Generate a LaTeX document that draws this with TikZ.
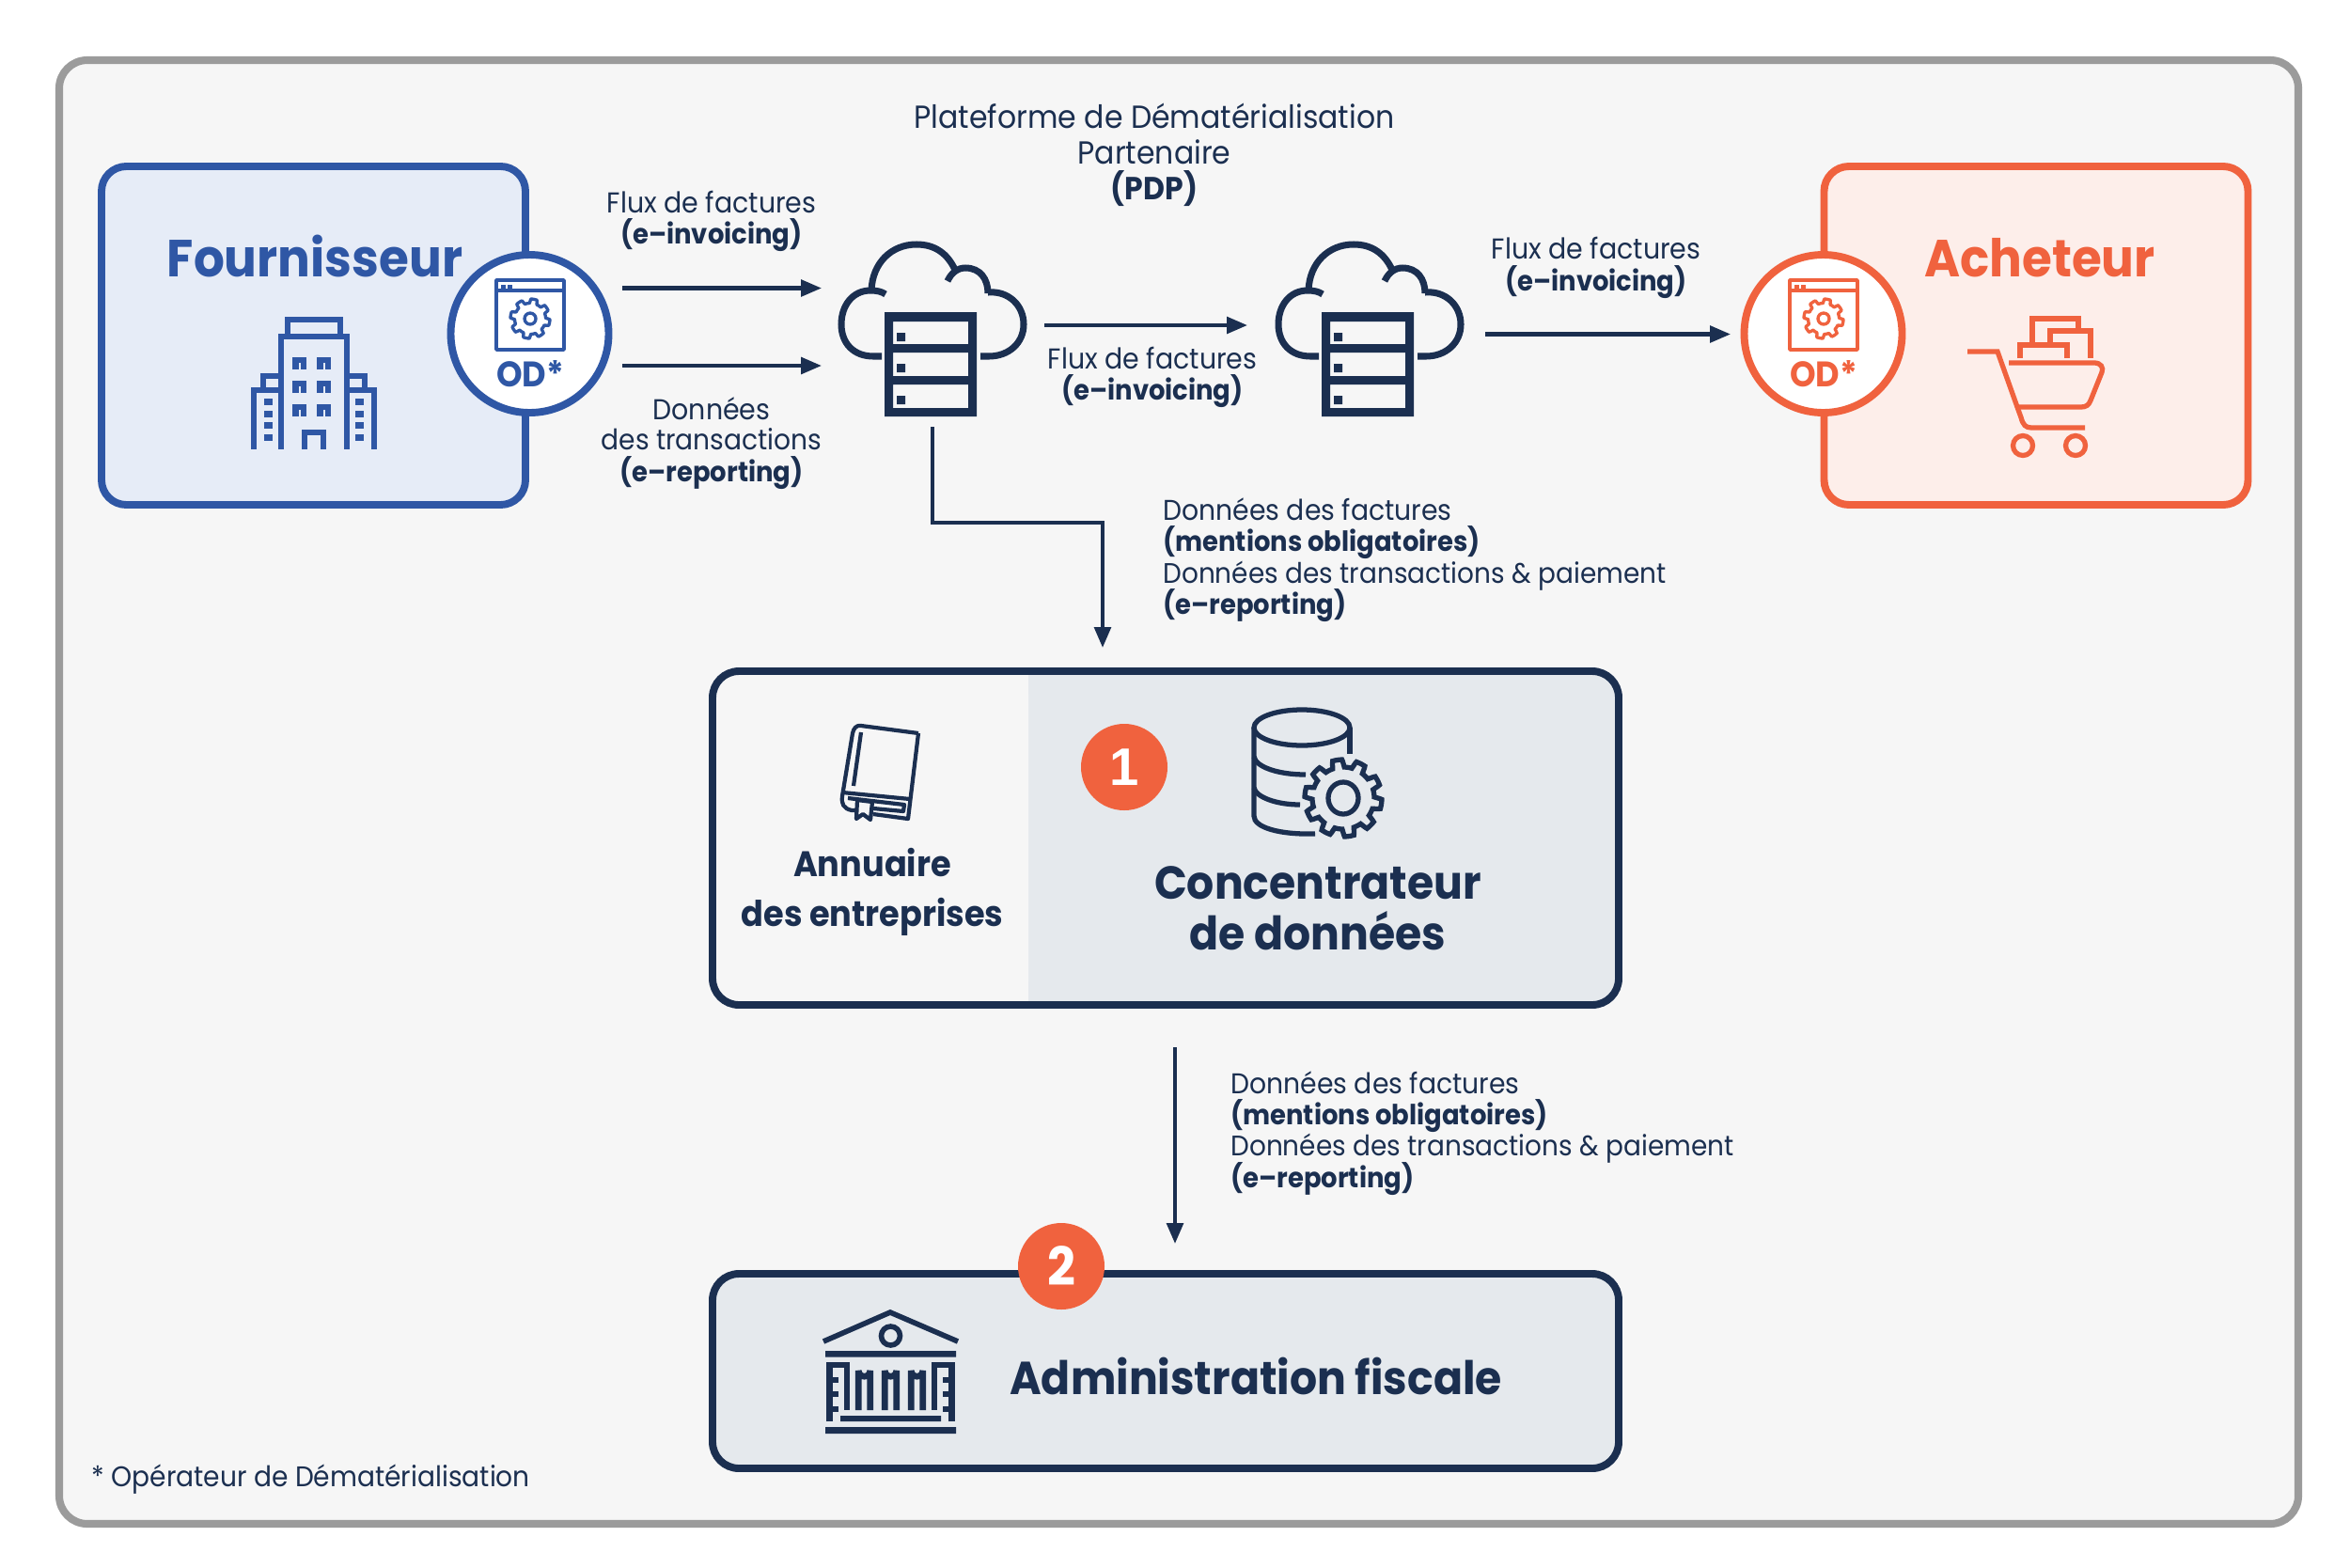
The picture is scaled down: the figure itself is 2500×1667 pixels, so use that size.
\documentclass[tikz,border=0pt]{standalone}
\usepackage{fontspec}
\setmainfont{Poppins}[FakeStretch=0.93]
\newfontfamily\numfont{Liberation Sans}
\usetikzlibrary{arrows.meta}
\definecolor{navy}{HTML}{1B2F50}
\definecolor{bluec}{HTML}{2F57A5}
\definecolor{bluef}{HTML}{E6ECF7}
\definecolor{orangec}{HTML}{F0623E}
\definecolor{orangef}{HTML}{FDEEEA}
\definecolor{panel}{HTML}{E5E9ED}
\definecolor{bgc}{HTML}{F6F6F6}
\definecolor{framec}{HTML}{9B9B9B}
\newcommand\sz[1]{\fontsize{#1}{#1}\selectfont}
\newcommand\gearpath[5]{% cx cy Rout Rin teeth
  plot[domain=0:360,samples=361,variable=\t]
  ({#1+(#4+(#3-#4)*max(0,min(1,0.5+1.6*sin(#5*\t))))*cos(\t)},
   {#2+(#4+(#3-#4)*max(0,min(1,0.5+1.6*sin(#5*\t))))*sin(\t)}) -- cycle}
\newcommand\odicon[3]{% cx colour name
  \begin{scope}[shift={(#1,0)},draw=#2,line width=2pt,line join=round]
    \draw (-36,298) rectangle (36,372);
    \draw (-36,309) -- (36,309);
    \fill[#2] (-31,303) rectangle (-26,307);
    \fill[#2] (-24,303) rectangle (-19,307);
    \draw[line width=1.9pt] \gearpath{0}{339}{21}{16.5}{8};
    \draw[line width=1.9pt] (0,339) circle (6);
    \node[text=#2,font=\bfseries\sz{21.5},inner sep=0pt,anchor=base] (#3) at (0,411) {OD*};
  \end{scope}}
\newcommand\cloudserver[1]{% x shift
  \begin{scope}[shift={(#1,0)},draw=navy,line width=4pt]
    \draw (938,379) -- (929,379) .. controls (908,379) and (895,365) .. (895,345)
      .. controls (895,325) and (907,309) .. (926,309) .. controls (932,309) and (938,310) .. (942,313);
    \draw (927,309) .. controls (928,280) and (948,260) .. (975,260)
      .. controls (995,260) and (1008,270) .. (1016,287);
    \draw (1008,299) .. controls (1012,290) and (1019,285) .. (1027,285)
      .. controls (1043,285) and (1051,297) .. (1051,312);
    \draw (1051,311) .. controls (1073,309) and (1089,325) .. (1089,345)
      .. controls (1089,365) and (1073,379) .. (1052,379) -- (1043,379);
    \fill[navy,even odd rule] (941,332) rectangle (1039,443)
      (950,342) rectangle (1030,366) (950,375) rectangle (1030,400) (950,409) rectangle (1030,434);
    \fill[navy] (954,354) rectangle (963,363) (954,387) rectangle (963,396) (954,421) rectangle (963,430);
  \end{scope}}
\tikzset{x=0.02cm,y=-0.02cm,
  frame/.style={draw=framec,fill=bgc,line width=4.6pt,rounded corners=17pt},
  partybox/.style={rectangle,line width=4.5pt,rounded corners=15pt,inner sep=0pt},
  navybox/.style={rectangle,draw=navy,line width=4.5pt,rounded corners=16pt,inner sep=0pt,minimum width=964*0.02cm},
  oddisc/.style={circle,fill=white,line width=4.5pt,minimum size=168*0.02cm,inner sep=0pt},
  numdisc/.style={circle,fill=orangec,minimum size=92*0.02cm,inner sep=0pt,text=white},
  lbl/.style={text=navy,font=\sz{17.4},inner sep=0pt,anchor=base},
  lblb/.style={text=navy,font=\bfseries\sz{16.8},inner sep=0pt,anchor=base},
  lbll/.style={lbl,anchor=base west},
  lblbl/.style={lblb,anchor=base west},
  lbllong/.style={lbll,font=\sz{17.1}},
  pdpl/.style={lbl,font=\sz{19.3}},
  arr/.style={draw=navy,line width=2.3pt,-{Triangle[length=12.5pt,width=10pt]}},
  ico/.style={draw=navy,line width=3pt},
}
\begin{document}
\begin{tikzpicture}
\useasboundingbox (0,0) rectangle (2500,1667);
\fill[white] (0,0) rectangle (2500,1667);
\draw[frame] (63,64) rectangle (2445,1621);

% Fournisseur
\node[partybox,draw=bluec,fill=bluef,minimum width=451*0.02cm,minimum height=360*0.02cm] (four) at (333.5,357) {};
\node[text=bluec,font=\bfseries\sz{31.6},inner sep=0pt,anchor=base] (fourt) at (335,294) {Fournisseur};
\begin{scope}[draw=bluec,line width=3.2pt]
  \draw (306,356) -- (306,340) -- (362,340) -- (362,356);
  \draw (299,478) -- (299,358) -- (369,358) -- (369,478);
  \draw (299,400) -- (280,400) -- (280,414) (369,400) -- (388,400) -- (388,414);
  \draw (299,415) -- (270,415) -- (270,478) (369,415) -- (398,415) -- (398,478);
  \foreach \yy in {380,405,430}{
    \draw[line width=3.8pt] (314.5,\yy+13) -- (314.5,\yy+3) -- (323,\yy+3) -- (323,\yy+13) ;
    \draw[line width=3.8pt] (340.5,\yy+13) -- (340.5,\yy+3) -- (349,\yy+3) -- (349,\yy+13) ;
  }
  \draw (324,478) -- (324,460) -- (344,460) -- (344,478);
  \foreach \yy in {424,437,449,462}{
    \fill[bluec] (281,\yy) rectangle (290,\yy+6.5);
    \fill[bluec] (378,\yy) rectangle (387,\yy+6.5);
  }
\end{scope}
\node[oddisc,draw=bluec] (odl) at (563.5,355) {};
\odicon{564}{bluec}{odlt}

% Acheteur
\node[partybox,draw=orangec,fill=orangef,minimum width=451*0.02cm,minimum height=360*0.02cm] (ach) at (2166,357) {};
\node[text=orangec,font=\bfseries\sz{31.6},inner sep=0pt,anchor=base] (acht) at (2170,294) {Acheteur};
\begin{scope}[draw=orangec,line width=3pt]
  \draw (2093,374) -- (2125,374) -- (2146,433) -- (2150,444) .. controls (2152,452) and (2155,455) .. (2161,455) -- (2218,455);
  \draw (2137,386) -- (2228,386) .. controls (2235,386) and (2238,391) .. (2236,396) -- (2224,426) .. controls (2222,431) and (2219,433) .. (2214,433) -- (2146,433);
  \draw (2152,474) circle (10.5);
  \draw (2208,474) circle (10.5);
  \draw (2149,381) -- (2149,367) -- (2199,367) -- (2199,381);
  \draw (2162,365) -- (2162,339) -- (2211,339) -- (2211,350);
  \draw (2181,365) -- (2181,352) -- (2224,352) -- (2224,381);
\end{scope}
\node[oddisc,draw=orangec] (odr) at (1939.5,355) {};
\odicon{1940}{orangec}{odrt}

% clouds
\cloudserver{0}
\cloudserver{465}
\coordinate (c1up) at (874,306.5);
\coordinate (c1lo) at (874,389);
\coordinate (fup) at (662,306.5);
\coordinate (flo) at (662,389);
\coordinate (c1out) at (1111,346);
\coordinate (c2in) at (1327,346);
\coordinate (c2out) at (1580,355.5);
\coordinate (odin) at (1841,355.5);
\coordinate (c1dn) at (992,454);
\coordinate (concin) at (1173,689);
\coordinate (concout) at (1250,1114);
\coordinate (admin) at (1250,1323);
\draw[arr] (fup) -- (c1up);
\draw[arr] (flo) -- (c1lo);
\draw[arr] (c1out) -- (c2in);
\draw[arr] (c2out) -- (odin);
\draw[arr] (c1dn) |- (1173,556) -- (concin);
\draw[arr] (concout) -- (admin);

% labels top
\node[pdpl] (pdp1) at (1228,136) {Plateforme de Dématérialisation};
\node[pdpl] (pdp2) at (1228,174) {Partenaire};
\node[pdpl,font=\bfseries\sz{19.3}] (pdp3) at (1228,212) {(PDP)};
\node[lbl] (la1) at (757,226) {Flux de factures};
\node[lblb] (la2) at (757,259) {(e–invoicing)};
\node[lbl] (lb1) at (757,446) {Données};
\node[lbl,font=\sz{17.2}] (lb2) at (757,478) {des transactions};
\node[lblb] (lb3) at (757,512) {(e–reporting)};
\node[lbl] (lc1) at (1226,392) {Flux de factures};
\node[lblb] (lc2) at (1226,425) {(e–invoicing)};
\node[lbl] (ld1) at (1698,275) {Flux de factures};
\node[lblb] (ld2) at (1698,309) {(e–invoicing)};
\node[lbll,font=\sz{17.3}] (le1) at (1237,553) {Données des factures};
\node[lblbl] (le2) at (1237,586) {(mentions obligatoires)};
\node[lbllong] (le3) at (1237,620) {Données des transactions \& paiement};
\node[lblbl] (le4) at (1237,653) {(e–reporting)};
\node[lbll,font=\sz{17.3}] (lf1) at (1309,1163) {Données des factures};
\node[lblbl] (lf2) at (1309,1196) {(mentions obligatoires)};
\node[lbllong] (lf3) at (1309,1229) {Données des transactions \& paiement};
\node[lblbl] (lf4) at (1309,1263) {(e–reporting)};

% Concentrateur
\node[navybox,draw=none,fill=panel,minimum height=355*0.02cm] (concbg) at (1240,891.5) {};
\fill[bgc,rounded corners=14pt] (758,714) rectangle (1094,1069);
\fill[bgc] (900,714) rectangle (1094,1069);
\node[navybox,minimum height=355*0.02cm] (conc) at (1240,891.5) {};
\node[numdisc,font=\numfont\bfseries\sz{32}] (n1) at (1196,816) {1};
\node[text=navy,font=\bfseries\sz{28},inner sep=0pt,anchor=base] (ct1) at (1402,956) {Concentrateur};
\node[text=navy,font=\bfseries\sz{28},inner sep=0pt,anchor=base] (ct2) at (1402,1010) {de données};
\node[text=navy,font=\bfseries\sz{21.5},inner sep=0pt,anchor=base] (an1) at (928,932) {Annuaire};
\node[text=navy,font=\bfseries\sz{21.5},inner sep=0pt,anchor=base] (an2) at (928,985) {des entreprises};
% database
\begin{scope}[ico]
  \draw (1385,774) ellipse (51 and 19);
  \draw (1334,774) -- (1334,868) .. controls (1334,880) and (1360,888) .. (1399,887);
  \draw (1436,774) -- (1436,802);
  \draw (1334,805) .. controls (1336,816) and (1360,824) .. (1389,824);
  \draw (1334,838) .. controls (1336,848) and (1358,856) .. (1383,856);
  \draw \gearpath{1429}{849}{41}{33}{10};
  \draw (1429,849) ellipse (16 and 17);
\end{scope}
% book
\begin{scope}[draw=navy,line width=2.4pt,line join=round]
  \draw (977,780) -- (916,772) .. controls (911,771) and (908,775) .. (907,780) -- (896,847) .. controls (895,855) and (897,860) .. (906,862) -- (911,862);
  \draw (977,780) -- (966,871) -- (929,866);
  \draw (916,779) -- (908,836);
  \draw (896,843) -- (968,850);
  \draw (902,849) -- (962,856) -- (961,863) -- (929,860);
  \draw (912,851) -- (911,871) -- (918,866) -- (926,872) -- (928,853) -- cycle;
\end{scope}

% Administration
\node[navybox,fill=panel,minimum height=207*0.02cm] (adm) at (1240,1458.5) {};
\node[numdisc,font=\bfseries\sz{32}] (n2) at (1129,1347) {2};
\node[text=navy,font=\bfseries\sz{28},inner sep=0pt,anchor=base] (admt) at (1336,1483) {Administration fiscale};
\begin{scope}[draw=navy,line width=3.2pt]
  \draw (876,1427) -- (947,1396) -- (1019,1427);
  \draw (947.5,1421) circle (10);
  \fill[navy] (878,1437) rectangle (1017,1443.5) (878,1518) rectangle (1017,1525) (894,1506) rectangle (1001,1512);
  \foreach \xx in {913.3,941.3,969.3}{
    \draw[line width=3.8pt] (\xx,1500) -- (\xx,1458) arc[start angle=180,end angle=0,radius=6.2] -- (\xx+12.4,1500);
  }
  \draw[line width=3.5pt] (882.5,1512) -- (882.5,1452) -- (901,1452) -- (901,1500);
  \draw[line width=3.5pt] (1012.5,1512) -- (1012.5,1452) -- (994,1452) -- (994,1500);
  \foreach \yy in {1468,1483,1499}{
    \draw[line width=3.5pt] (882,\yy) -- (892,\yy);
    \draw[line width=3.5pt] (1003,\yy) -- (1013,\yy);
  }
\end{scope}

\node[lbll,font=\sz{17.2}] (foot) at (97,1581) {* Opérateur de Dématérialisation};
\end{tikzpicture}
\end{document}
